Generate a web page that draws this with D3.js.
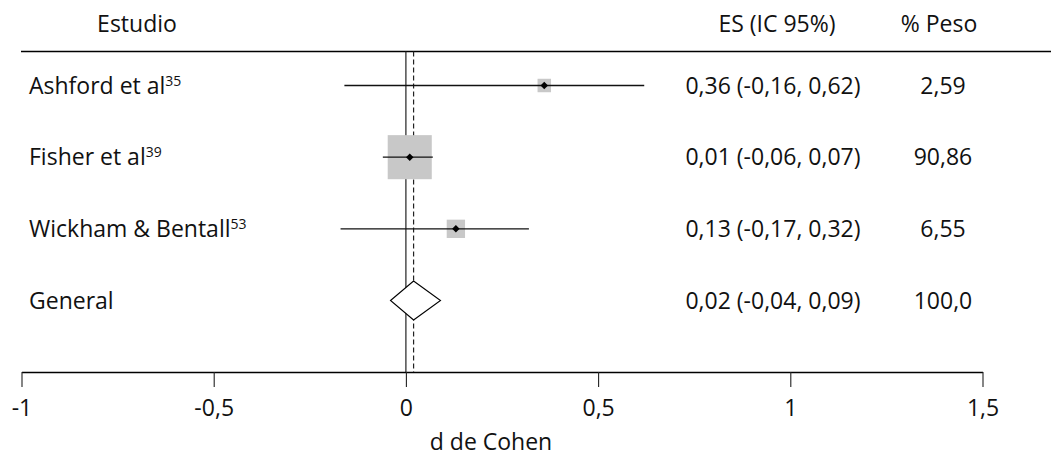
<!DOCTYPE html>
<html>
<head>
<meta charset="utf-8">
<script src="https://cdn.jsdelivr.net/npm/d3@7"></script>
<style>
  body { margin: 0; background: #fff; }
  text { font-family: "Open Sans", sans-serif; fill: #111; }
</style>
</head>
<body>
<div id="chart-area"></div>
<script>
// study rows
var studies = ["Ashford et al", "Fisher et al", "Wickham & Bentall"];
var refs = ["35", "39", "53"];
var es = [0.36, 0.01, 0.13];
var ciLow = [-0.16, -0.06, -0.17];
var ciHigh = [0.62, 0.07, 0.32];
var weights = [2.59, 90.86, 6.55];

// pooled estimate
var overallLabel = "General";
var overallES = 0.02;
var overallLow = -0.04;
var overallHigh = 0.09;
var overallWeight = 100.0;

var tickValues = [-1, -0.5, 0, 0.5, 1, 1.5];

var width = 1051;
var height = 457;
var fontSize = "23px";

var locale = d3.formatLocale({ decimal: ",", thousands: ".", grouping: [3], currency: ["", ""], minus: "-" });
var f2 = locale.format(".2f");
var f1 = locale.format(".1f");
var fTick = locale.format("");

var svg = d3.select("#chart-area")
    .append("svg")
    .attr("width", width)
    .attr("height", height);

var x = d3.scaleLinear()
    .domain([-1, 1.5])
    .range([21.5, 982.5]);

var rows = studies.concat([overallLabel]);
var y = d3.scalePoint()
    .domain(rows)
    .range([85.5, 300.5]);

var boxSize = d3.scalePow()
    .exponent(1 / 3)
    .domain([0, 100])
    .range([0, 45.5]);

var topY = 51.5;
var axisY = 372;

// header
svg.append("text")
    .attr("x", 137)
    .attr("y", 32)
    .attr("text-anchor", "middle")
    .attr("font-size", fontSize)
    .text("Estudio");

svg.append("text")
    .attr("x", 777)
    .attr("y", 32)
    .attr("text-anchor", "middle")
    .attr("font-size", fontSize)
    .text("ES (IC 95%)");

svg.append("text")
    .attr("x", 939)
    .attr("y", 32)
    .attr("text-anchor", "middle")
    .attr("font-size", fontSize)
    .text("% Peso");

svg.append("line")
    .attr("x1", 21)
    .attr("x2", width)
    .attr("y1", topY)
    .attr("y2", topY)
    .attr("stroke", "#000")
    .attr("stroke-width", 1.3);

// reference lines
svg.append("line")
    .attr("x1", x(0))
    .attr("x2", x(0))
    .attr("y1", topY)
    .attr("y2", axisY)
    .attr("stroke", "#222")
    .attr("stroke-width", 1.2);

svg.append("line")
    .attr("x1", x(overallES))
    .attr("x2", x(overallES))
    .attr("y1", topY)
    .attr("y2", axisY)
    .attr("stroke", "#222")
    .attr("stroke-width", 1.2)
    .attr("stroke-dasharray", "5,3");

var data = studies.map(function (s, i) {
    return { name: s, ref: refs[i], es: es[i], lo: ciLow[i], hi: ciHigh[i], w: weights[i] };
});

// weight boxes
svg.selectAll(".box")
    .data(data)
    .enter()
    .append("rect")
    .attr("class", "box")
    .attr("x", d => x(d.es) - boxSize(d.w) / 2)
    .attr("y", d => y(d.name) - boxSize(d.w) / 2)
    .attr("width", d => boxSize(d.w))
    .attr("height", d => boxSize(d.w))
    .attr("fill", "#c8c8c8");

// confidence intervals
svg.selectAll(".ci")
    .data(data)
    .enter()
    .append("line")
    .attr("class", "ci")
    .attr("x1", d => x(d.lo))
    .attr("x2", d => x(d.hi))
    .attr("y1", d => y(d.name))
    .attr("y2", d => y(d.name))
    .attr("stroke", "#111")
    .attr("stroke-width", 1.3);

// point estimates
svg.selectAll(".pt")
    .data(data)
    .enter()
    .append("path")
    .attr("class", "pt")
    .attr("d", d3.symbol(d3.symbolDiamond2, 36))
    .attr("transform", d => `translate(${x(d.es)},${y(d.name)})`)
    .attr("fill", "#000");

// pooled diamond
var oy = y(overallLabel);
svg.append("path")
    .attr("d", `M${x(overallLow)},${oy}L${x(overallES)},${oy - 19.5}L${x(overallHigh)},${oy}L${x(overallES)},${oy + 19.5}Z`)
    .attr("fill", "#fff")
    .attr("stroke", "#000")
    .attr("stroke-width", 1.1);

// row labels
var labels = svg.selectAll(".row-label")
    .data(data)
    .enter()
    .append("text")
    .attr("class", "row-label")
    .attr("x", 29)
    .attr("y", d => y(d.name) + 8)
    .attr("font-size", fontSize);

labels.append("tspan").text(d => d.name);
labels.append("tspan")
    .attr("font-size", "14px")
    .attr("dy", -8)
    .text(d => d.ref);

svg.append("text")
    .attr("x", 29)
    .attr("y", oy + 8)
    .attr("font-size", fontSize)
    .text(overallLabel);

// ES and weight columns
svg.selectAll(".es-label")
    .data(data)
    .enter()
    .append("text")
    .attr("class", "es-label")
    .attr("x", 773)
    .attr("y", d => y(d.name) + 8)
    .attr("text-anchor", "middle")
    .attr("font-size", fontSize)
    .text(d => `${f2(d.es)} (${f2(d.lo)}, ${f2(d.hi)})`);

svg.append("text")
    .attr("x", 773)
    .attr("y", oy + 8)
    .attr("text-anchor", "middle")
    .attr("font-size", fontSize)
    .text(`${f2(overallES)} (${f2(overallLow)}, ${f2(overallHigh)})`);

svg.selectAll(".w-label")
    .data(data)
    .enter()
    .append("text")
    .attr("class", "w-label")
    .attr("x", 943)
    .attr("y", d => y(d.name) + 8)
    .attr("text-anchor", "middle")
    .attr("font-size", fontSize)
    .text(d => f2(d.w));

svg.append("text")
    .attr("x", 943)
    .attr("y", oy + 8)
    .attr("text-anchor", "middle")
    .attr("font-size", fontSize)
    .text(f1(overallWeight));

// x axis
var xAxis = d3.axisBottom(x)
    .tickValues(tickValues)
    .tickSizeInner(15)
    .tickSizeOuter(0)
    .tickPadding(13)
    .tickFormat(fTick);

var axisG = svg.append("g")
    .attr("transform", `translate(0, ${axisY})`)
    .call(xAxis);

axisG.select(".domain").attr("stroke", "#000").attr("stroke-width", 1.3);
axisG.selectAll(".tick line").attr("stroke", "#222").attr("stroke-width", 1.1);
axisG.selectAll(".tick text")
    .attr("font-family", "Open Sans, sans-serif")
    .attr("font-size", fontSize)
    .attr("fill", "#111");

svg.append("text")
    .attr("x", 491)
    .attr("y", 450)
    .attr("text-anchor", "middle")
    .attr("font-size", fontSize)
    .text("d de Cohen");
</script>
</body>
</html>
